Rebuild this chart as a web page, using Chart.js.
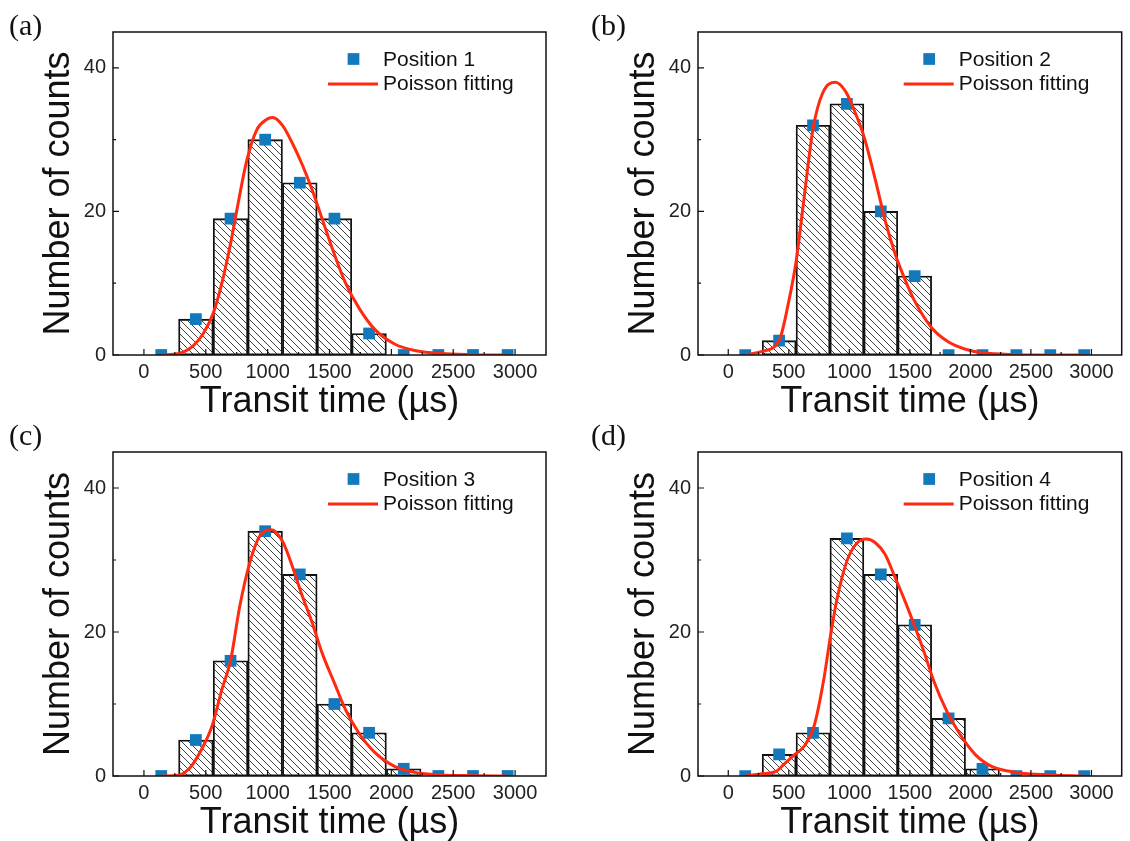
<!DOCTYPE html>
<html lang="en">
<head>
<meta charset="UTF-8" />
<title>Transit time histograms</title>
<script src="https://cdn.jsdelivr.net/npm/chart.js"></script>
<style>
    body {
        margin: 0;
        background: #fff;
        width: 1130px;
        height: 841px;
        position: relative;
        overflow: hidden;
    }

    .panel {
        position: absolute;
    }

    .tag {
        position: absolute;
        font-family: 'Liberation Serif', 'Times New Roman', serif;
        font-size: 30px;
        line-height: 30px;
        color: #111;
    }
</style>
</head>
<body>

<div class="panel" style="left:0;top:0"><canvas id="chartA" width="565" height="420"></canvas></div>
<div class="panel" style="left:565px;top:0"><canvas id="chartB" width="565" height="420"></canvas></div>
<div class="panel" style="left:0;top:420px"><canvas id="chartC" width="565" height="421"></canvas></div>
<div class="panel" style="left:565px;top:420px"><canvas id="chartD" width="565" height="421"></canvas></div>

<div class="tag" style="left:9px;top:10px">(a)</div>
<div class="tag" style="left:591px;top:10px">(b)</div>
<div class="tag" style="left:9px;top:420px">(c)</div>
<div class="tag" style="left:591px;top:420px">(d)</div>

<script>
    // bin centres of the histogram (µs)
    const binCenters = [140, 420, 700, 980, 1260, 1540, 1820, 2100, 2380, 2660, 2940];

    const counts1 = [0, 5, 19, 30, 24, 19, 3, 0, 0, 0, 0];
    const counts2 = [0, 2, 32, 35, 20, 11, 0, 0, 0, 0, 0];
    const counts3 = [0, 5, 16, 34, 28, 10, 6, 1, 0, 0, 0];
    const counts4 = [0, 3, 6, 33, 28, 21, 8, 1, 0, 0, 0];

    // Poisson fitting curves
    const fit1X = [140, 280, 400, 480, 560, 630, 700, 760, 830, 910, 990, 1040, 1120, 1200, 1280, 1360, 1440, 1540, 1630, 1740, 1870, 2030, 2200, 2400, 2660, 2940];
    const fit1Y = [0, 0.2, 1.3, 3.0, 5.8, 10, 15.5, 21, 27, 31.3, 32.8, 33.1, 32, 29.5, 26.5, 23, 19, 14, 10, 6.5, 3.5, 1.5, 0.6, 0.2, 0.05, 0];

    const fit2X = [140, 280, 420, 500, 560, 620, 700, 780, 885, 970, 1050, 1120, 1215, 1295, 1380, 1460, 1540, 1680, 1820, 1960, 2100, 2380, 2660, 2940];
    const fit2Y = [0, 0.5, 2, 7.5, 13, 21, 31.5, 36.5, 38, 36.7, 33.7, 30.5, 24.4, 18.8, 14, 10.5, 7.5, 3.8, 1.8, 0.8, 0.3, 0.05, 0, 0];

    const fit3X = [140, 280, 370, 450, 550, 630, 700, 775, 855, 935, 1030, 1120, 1200, 1280, 1360, 1440, 1540, 1630, 1740, 1870, 2030, 2190, 2400, 2660, 2940];
    const fit3Y = [0, 0.1, 1.1, 3.2, 6.9, 12, 16, 23.6, 29.6, 33.3, 34.2, 32.6, 29.1, 25, 21.3, 17.1, 12.9, 9.2, 5.9, 3.2, 1.3, 0.5, 0.15, 0.05, 0];

    const fit4X = [140, 280, 390, 470, 550, 630, 710, 790, 840, 895, 975, 1055, 1140, 1215, 1295, 1375, 1455, 1540, 1620, 1700, 1805, 1910, 2045, 2180, 2380, 2660, 2940];
    const fit4Y = [0, 0.3, 0.6, 1.8, 3.0, 4.2, 7, 13.5, 19, 24.3, 29.6, 32.2, 32.9, 32.4, 30.8, 27.7, 24.5, 20.8, 17.1, 13.1, 9, 5.9, 2.9, 1.3, 0.5, 0.15, 0];

    const xTicks = [0, 500, 1000, 1500, 2000, 2500, 3000];
    const xMinorTicks = [250, 750, 1250, 1750, 2250, 2750];
    const yTicks = [0, 20, 40];
    const yMinorTicks = [10, 30];

    const BLUE = '#1279bd';
    const RED = '#ff2a10';

    Chart.defaults.font.family = "'Liberation Sans', Arial, sans-serif";
    Chart.defaults.color = '#111';

    // diagonal hatch used to fill the bars
    function hatchPattern() {
        const s = 7;
        const c = document.createElement('canvas');
        c.width = s;
        c.height = s;
        const g = c.getContext('2d');
        g.strokeStyle = '#2a2a2a';
        g.lineWidth = 0.9;
        g.beginPath();
        g.moveTo(-1, -1); g.lineTo(s + 1, s + 1);
        g.moveTo(-1, s - 1); g.lineTo(1, s + 1);
        g.moveTo(s - 1, -1); g.lineTo(s + 1, 1);
        g.stroke();
        return g.createPattern(c, 'repeat');
    }

    // box frame + inward tick marks
    const framePlugin = {
        id: 'frame',
        afterDatasetsDraw(chart) {
            const { ctx, chartArea: a, scales } = chart;
            ctx.save();
            ctx.strokeStyle = '#111';
            ctx.lineWidth = 1.5;
            ctx.strokeRect(a.left, a.top, a.right - a.left, a.bottom - a.top);
            ctx.lineWidth = 1.2;
            ctx.beginPath();
            xTicks.forEach(v => {
                const px = scales.x.getPixelForValue(v);
                ctx.moveTo(px, a.bottom); ctx.lineTo(px, a.bottom - 6);
            });
            xMinorTicks.forEach(v => {
                const px = scales.x.getPixelForValue(v);
                ctx.moveTo(px, a.bottom); ctx.lineTo(px, a.bottom - 3);
            });
            yTicks.forEach(v => {
                const py = scales.y.getPixelForValue(v);
                ctx.moveTo(a.left, py); ctx.lineTo(a.left + 6, py);
            });
            yMinorTicks.forEach(v => {
                const py = scales.y.getPixelForValue(v);
                ctx.moveTo(a.left, py); ctx.lineTo(a.left + 3, py);
            });
            ctx.stroke();
            ctx.restore();
        }
    };

    // legend inside the plot, top right
    const legendPlugin = {
        id: 'insideLegend',
        afterDraw(chart) {
            const { ctx, chartArea: a } = chart;
            const fit = chart.data.datasets[0];
            const pts = chart.data.datasets[1];
            ctx.save();
            ctx.fillStyle = pts.backgroundColor;
            Chart.helpers.drawPoint(ctx, { pointStyle: 'rect', radius: pts.pointRadius, borderWidth: 0 }, a.right - 192.5, a.top + 27);
            ctx.strokeStyle = fit.borderColor;
            ctx.lineWidth = fit.borderWidth;
            ctx.beginPath();
            ctx.moveTo(a.right - 218, a.top + 52);
            ctx.lineTo(a.right - 168, a.top + 52);
            ctx.stroke();
            ctx.fillStyle = '#111';
            ctx.font = "21px 'Liberation Sans', Arial, sans-serif";
            ctx.textBaseline = 'middle';
            ctx.fillText(pts.label, a.right - 163, a.top + 28);
            ctx.fillText(fit.label, a.right - 163, a.top + 52);
            ctx.restore();
        }
    };

    function makeChart(id, counts, fitX, fitY, name, padLeft, padRight) {
        return new Chart(document.getElementById(id), {
            type: 'bar',
            data: {
                datasets: [
                    {
                        type: 'line',
                        label: 'Poisson fitting',
                        data: fitX.map((x, i) => ({ x: x, y: fitY[i] })),
                        borderColor: RED,
                        borderWidth: 3,
                        pointRadius: 0,
                        cubicInterpolationMode: 'monotone',
                        fill: false,
                        order: 1
                    },
                    {
                        type: 'scatter',
                        label: name,
                        data: binCenters.map((x, i) => ({ x: x, y: counts[i] })),
                        backgroundColor: BLUE,
                        borderWidth: 0,
                        pointStyle: 'rect',
                        pointRadius: 8.3,
                        clip: 0,
                        order: 2
                    },
                    {
                        type: 'bar',
                        label: 'counts',
                        data: binCenters.map((x, i) => ({ x: x, y: counts[i] })),
                        backgroundColor: hatchPattern(),
                        borderColor: '#111',
                        borderWidth: 1.2,
                        borderSkipped: false,
                        barPercentage: 1,
                        categoryPercentage: 1,
                        order: 3
                    }
                ]
            },
            options: {
                responsive: false,
                animation: false,
                layout: { padding: { left: padLeft, top: 32, right: padRight, bottom: 0 } },
                plugins: {
                    legend: { display: false },
                    tooltip: { enabled: false }
                },
                scales: {
                    x: {
                        type: 'linear',
                        min: -250,
                        max: 3250,
                        offset: false,
                        grid: { display: false, drawTicks: false },
                        border: { display: false },
                        afterBuildTicks: s => { s.ticks = xTicks.map(v => ({ value: v })); },
                        afterFit: s => { s.height = 65; },
                        ticks: {
                            padding: 5,
                            font: { size: 20 },
                            color: '#222',
                            autoSkip: false,
                            maxRotation: 0,
                            callback: v => String(v)
                        },
                        title: {
                            display: true,
                            text: 'Transit time (µs)',
                            font: { size: 36, lineHeight: 1 },
                            color: '#111',
                            padding: { top: 0, bottom: 0 }
                        }
                    },
                    y: {
                        min: 0,
                        max: 45,
                        grid: { display: false, drawTicks: false },
                        border: { display: false },
                        afterBuildTicks: s => { s.ticks = yTicks.map(v => ({ value: v })); },
                        afterFit: s => { s.width = 113; },
                        ticks: { padding: 7, font: { size: 20 }, color: '#222', callback: v => String(v) },
                        title: {
                            display: true,
                            text: 'Number of counts',
                            font: { size: 36, lineHeight: 1 },
                            color: '#111',
                            padding: { top: 41.5, bottom: 0 }
                        }
                    }
                }
            },
            plugins: [framePlugin, legendPlugin]
        });
    }

    makeChart('chartA', counts1, fit1X, fit1Y, 'Position 1', 0, 19);
    makeChart('chartB', counts2, fit2X, fit2Y, 'Position 2', 20, 4);
    makeChart('chartC', counts3, fit3X, fit3Y, 'Position 3', 0, 19);
    makeChart('chartD', counts4, fit4X, fit4Y, 'Position 4', 20, 4);
</script>
</body>
</html>
